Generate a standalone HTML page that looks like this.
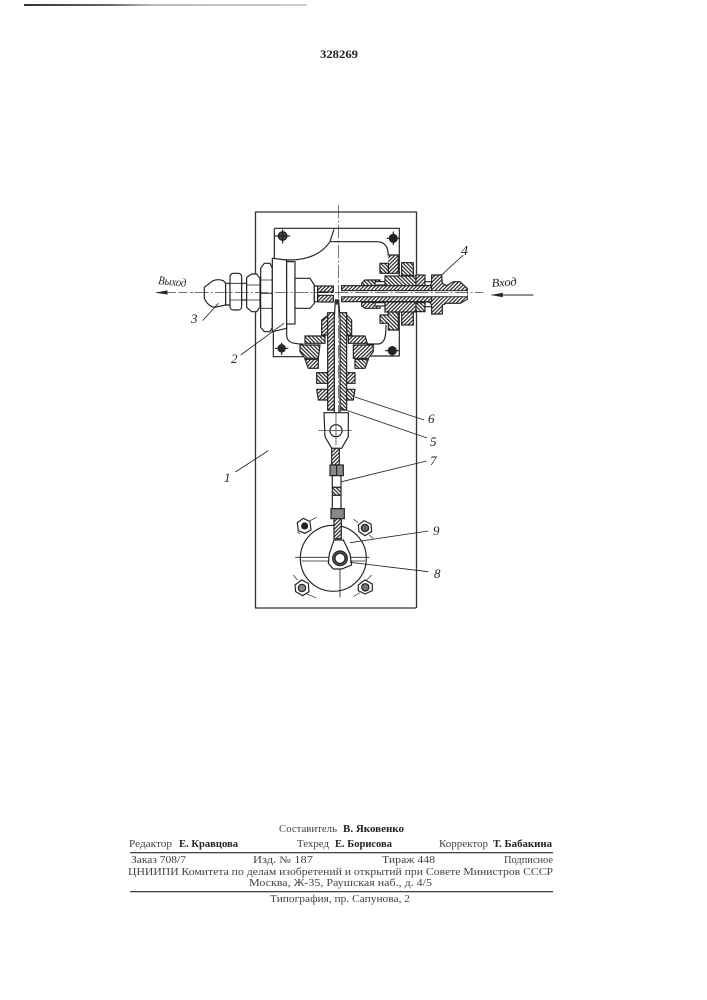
<!DOCTYPE html>
<html><head><meta charset="utf-8"><style>
html,body{margin:0;padding:0;background:#fff}
svg{display:block}
.f{font-family:"Liberation Serif",serif;font-size:10px;fill:#444}
.b{font-family:"Liberation Serif",serif;font-size:10px;font-weight:bold;fill:#222}
.l{font-family:"Liberation Serif",serif;font-style:italic;font-size:13px;fill:#222}
</style></head><body>
<svg width="707" height="1000" viewBox="0 0 707 1000" xmlns="http://www.w3.org/2000/svg">
<defs>
<pattern id="h" width="8" height="8" patternUnits="userSpaceOnUse" patternTransform="rotate(45)"><rect width="8" height="8" fill="#fff"/><rect width="3.500" height="8" fill="#222"/></pattern>
<pattern id="k" width="8" height="8" patternUnits="userSpaceOnUse" patternTransform="rotate(-45)"><rect width="8" height="8" fill="#fff"/><rect width="3.500" height="8" fill="#222"/></pattern>
<linearGradient id="t" x1="0" x2="1"><stop offset="0" stop-color="#333"/><stop offset=".3" stop-color="#666"/><stop offset=".45" stop-color="#bbb"/><stop offset="1" stop-color="#ccc"/></linearGradient>
<filter id="s" x="-5%" y="-5%" width="110%" height="110%"><feGaussianBlur stdDeviation=".3"/></filter>
</defs>
<rect width="707" height="1000" fill="#fff"/>
<rect x="24" y="4" width="283" height="2" fill="url(#t)"/>
<text x="320" y="58" class="b" style="font-size:12px" textLength="38" lengthAdjust="spacingAndGlyphs">328269</text>

<g filter="url(#s)">
<path d="M255,212H417M255.500,212V608M416.500,212V608M255,608H416" stroke="#333" stroke-width="1.300" fill="none"/>

<g transform="translate(140,200) scale(.3333)" stroke="#222" stroke-width="3.500" fill="#fff">
<path d="M403,85H778V468H680M490,470H400V375M403,85V175" fill="#fff"/>
<path d="M400,175C480,190 540,170 570,125L582,88M572,125H710C735,125 745,140 745,170M440,375V405C440,428 460,432 490,432M680,432H715C735,430 738,410 738,375" fill="none"/>
<circle cx="428" cy="108" r="13" fill="#444"/><path d="M405,108H450M428,88V130" fill="none"/>
<circle cx="760" cy="115" r="12" fill="#222"/><path d="M740,115H780M760,95V135" fill="none"/>
<circle cx="425" cy="445" r="11" fill="#333"/><path d="M405,445H445M425,428V465" fill="none"/>
<circle cx="757" cy="452" r="12" fill="#222"/><path d="M735,452H778M757,438V470" fill="none"/>
</g>

<g transform="translate(195,250) scale(.3333)" stroke="#222" stroke-width="3.500" fill="#fff">
<path d="M28,112L50,95Q65,85 85,92L92,100V165L60,172Q40,170 28,145Z"/>
<path d="M92,100H105V165H92Z"/>
<rect x="105" y="70" width="35" height="110" rx="10"/>
<path d="M105,100H140M105,150H140" fill="none" stroke-width="2.500"/>
<path d="M140,100H155V150H140Z"/>
<path d="M155,82L170,72H185L195,85V172L185,185H170L155,172Z"/>
<path d="M155,105H195M155,150H195" fill="none" stroke-width="2.500"/>
<path d="M197,55L208,40H225L232,55V232L225,245H208L197,232Z"/>
<path d="M197,90H232M197,175H232M197,130H232" fill="none" stroke-width="2.500"/>
<path d="M232,25L275,30V235L232,245Z"/>
<rect x="275" y="35" width="25" height="187"/>
<path d="M300,85H345L358,105V160L345,175H300Z"/>
<path d="M358,108H368V155H358Z"/>
<rect x="368" y="108" width="47" height="18" fill="url(#h)"/>
<rect x="368" y="136" width="47" height="20" fill="url(#h)"/>
</g>

<g transform="translate(330,240) scale(.3333)" stroke="#222" stroke-width="3.500" fill="#fff">
<path d="M175,45H205V100H175V75H150V95H175" fill="url(#h)"/>
<path d="M150,70H175V100H150Z" fill="url(#k)"/>
<rect x="215" y="68" width="35" height="38" fill="url(#k)"/>
<path d="M175,215H205V270H175V250H150V225H175Z" fill="url(#k)"/>
<rect x="215" y="215" width="35" height="40" fill="url(#h)"/>
<path d="M95,130L105,120H150V137H95Z" fill="url(#k)"/>
<path d="M95,190V198L105,205H150V187H95Z" fill="url(#h)"/>
<rect x="135" y="125" width="30" height="10"/>
<rect x="135" y="188" width="30" height="10"/>
<rect x="165" y="108" width="93" height="30" fill="url(#k)"/>
<rect x="165" y="186" width="93" height="30" fill="url(#h)"/>
<rect x="258" y="105" width="27" height="32" fill="url(#h)"/>
<rect x="258" y="188" width="27" height="27" fill="url(#k)"/>
<path d="M285,125H305V137H285ZM285,186H305V200H285Z"/>
<path d="M305,105H335L337,130L350,137L370,125H390L412,145V178L390,190H350L337,195V222H305V195L298,185V140L305,130Z" fill="url(#h)"/>
<rect x="35" y="137" width="270" height="15" fill="url(#h)"/>
<rect x="35" y="170" width="270" height="15" fill="url(#h)"/>
<rect x="35" y="152" width="377" height="18" fill="#fff" stroke="none"/>
<path d="M35,152H412M35,170H412" fill="none" stroke-width="2.500"/>
</g>

<g transform="translate(290,300) scale(.3333)" stroke="#222" stroke-width="3.500" fill="#fff">
<path d="M95,60L115,45V105H95Z" fill="url(#h)"/>
<path d="M170,45L185,60V105H170Z" fill="url(#k)"/>
<path d="M45,108H105V130H45Z" fill="url(#k)"/>
<path d="M175,108H225L232,130H175Z" fill="url(#h)"/>
<path d="M30,135H90L85,175H45L30,155Z" fill="url(#k)"/>
<path d="M190,135H250V155L235,175H190Z" fill="url(#h)"/>
<path d="M45,178H85V205H55Z" fill="url(#h)"/>
<path d="M195,178H235L225,205H195Z" fill="url(#k)"/>
<rect x="80" y="218" width="33" height="32" fill="url(#k)"/>
<rect x="167" y="218" width="28" height="32" fill="url(#h)"/>
<path d="M80,268H115V300H85Z" fill="url(#h)"/>
<path d="M150,268H195L190,300H150Z" fill="url(#k)"/>
<path d="M113,38H133V330H113Z" fill="url(#h)"/>
<path d="M147,38H170V330H147Z" fill="url(#k)"/>
<path d="M133,340V55L136,0H146L150,55V340"/>
<rect x="135" y="0" width="10" height="14" fill="#333" stroke="none"/>
</g>

<g transform="translate(140,200) scale(.3333)" stroke="#222" fill="none">
<path d="M165,278H1030M595,15V690" stroke-width="1.800" stroke-dasharray="40 7 6 7"/>
<path d="M48,278H160" stroke-width="2" stroke-dasharray="26 8"/>
<path d="M48,278L82,272V283Z" fill="#222"/>
<path d="M1055,285H1180" stroke-width="3"/>
<path d="M1055,285L1088,279V291Z" fill="#222"/>
<path d="M188,362L235,310M302,465L432,370M905,225L970,165" stroke-width="2.500"/>
</g>

<g transform="translate(210,400) scale(.3333)" stroke="#222" stroke-width="3.500" fill="#fff">
<path d="M342,38H415V110L395,145H365L345,110Z"/>
<circle cx="378" cy="92" r="18"/>
<path d="M325,92H425M378,40V135" fill="none" stroke-width="2"/>
<path d="M365,145H388V195H365Z" fill="url(#h)"/>
<rect x="360" y="195" width="40" height="32" fill="#888"/>
<path d="M380,195V227" fill="none"/>
<rect x="367" y="227" width="26" height="35"/>
<rect x="367" y="262" width="26" height="24" fill="url(#k)"/>
<rect x="367" y="286" width="26" height="40"/>
<rect x="363" y="326" width="40" height="30" fill="#888"/>
<circle cx="370" cy="475" r="99"/>
<rect x="372" y="356" width="22" height="60" fill="url(#h)"/>
<path d="M358,462L372,420H400L420,462L425,495L395,507H370L355,490Z"/>
<circle cx="390" cy="475" r="22" fill="#555"/><circle cx="390" cy="475" r="15" fill="#fff"/>
<path d="M255,472H358M420,472H478M275,483H358M420,483H465M390,505V592" fill="none" stroke-width="2.500"/>
<path d="M262,368L280,355L300,365L303,390L285,400L265,392Z"/><circle cx="284" cy="378" r="9" fill="#222"/>
<path d="M445,375L462,362L483,372L485,395L465,407L447,395Z"/><circle cx="465" cy="384" r="11" fill="#666"/>
<path d="M255,555L275,540L295,550L297,575L278,587L257,575Z"/><circle cx="276" cy="564" r="11" fill="#888"/>
<path d="M445,555L465,540L487,552L487,572L465,582L445,572Z"/><circle cx="466" cy="562" r="11" fill="#777"/>
<path d="M300,362L320,352M430,358L445,368M478,405L490,416M250,525L262,540M290,582L318,593M430,590L450,578M470,540L485,525M262,395L270,402" fill="none" stroke-width="2"/>
<path d="M76,216L175,152M395,245L650,183M420,428L655,393M420,487L655,515" fill="none" stroke-width="2.500"/>
</g>
<path d="M355,397L424,420M340,408L427,438" stroke="#222" stroke-width=".9" fill="none"/>

<text x="158" y="284" class="l" transform="rotate(6 158 284)" style="font-size:12px" textLength="28" lengthAdjust="spacingAndGlyphs">Выход</text>
<text x="492" y="287" class="l" transform="rotate(-4 492 287)" style="font-size:12px" textLength="25" lengthAdjust="spacingAndGlyphs">Вход</text>
<text x="191" y="323" class="l">3</text>
<text x="231" y="363" class="l">2</text>
<text x="461" y="255" class="l" style="font-size:14px">4</text>
<text x="428" y="423" class="l">6</text>
<text x="430" y="446" class="l">5</text>
<text x="430" y="465" class="l">7</text>
<text x="433" y="535" class="l">9</text>
<text x="434" y="578" class="l">8</text>
<text x="224" y="482" class="l">1</text>
</g>

<text x="279" y="832" class="f" textLength="58" lengthAdjust="spacingAndGlyphs">Составитель</text>
<text x="343" y="832" class="b" textLength="61" lengthAdjust="spacingAndGlyphs">В. Яковенко</text>
<text x="129" y="847" class="f" textLength="43" lengthAdjust="spacingAndGlyphs">Редактор</text>
<text x="179" y="847" class="b" textLength="59" lengthAdjust="spacingAndGlyphs">Е. Кравцова</text>
<text x="297" y="847" class="f" textLength="32" lengthAdjust="spacingAndGlyphs">Техред</text>
<text x="335" y="847" class="b" textLength="57" lengthAdjust="spacingAndGlyphs">Е. Борисова</text>
<text x="439" y="847" class="f" textLength="49" lengthAdjust="spacingAndGlyphs">Корректор</text>
<text x="493" y="847" class="b" textLength="59" lengthAdjust="spacingAndGlyphs">Т. Бабакина</text>
<rect x="130" y="852" width="423" height="1.300" fill="#444"/>
<text x="131" y="863" class="f" textLength="55" lengthAdjust="spacingAndGlyphs">Заказ 708/7</text>
<text x="253" y="863" class="f" textLength="60" lengthAdjust="spacingAndGlyphs">Изд. № 187</text>
<text x="382" y="863" class="f" textLength="53" lengthAdjust="spacingAndGlyphs">Тираж 448</text>
<text x="504" y="863" class="f" textLength="49" lengthAdjust="spacingAndGlyphs">Подписное</text>
<text x="128" y="875" class="f" textLength="425" lengthAdjust="spacingAndGlyphs">ЦНИИПИ Комитета по делам изобретений и открытий при Совете Министров СССР</text>
<text x="249" y="886" class="f" textLength="183" lengthAdjust="spacingAndGlyphs">Москва, Ж-35, Раушская наб., д. 4/5</text>
<rect x="130" y="891" width="423" height="1.300" fill="#444"/>
<text x="270" y="902" class="f" textLength="140" lengthAdjust="spacingAndGlyphs">Типография, пр. Сапунова, 2</text>
</svg>
</body></html>
